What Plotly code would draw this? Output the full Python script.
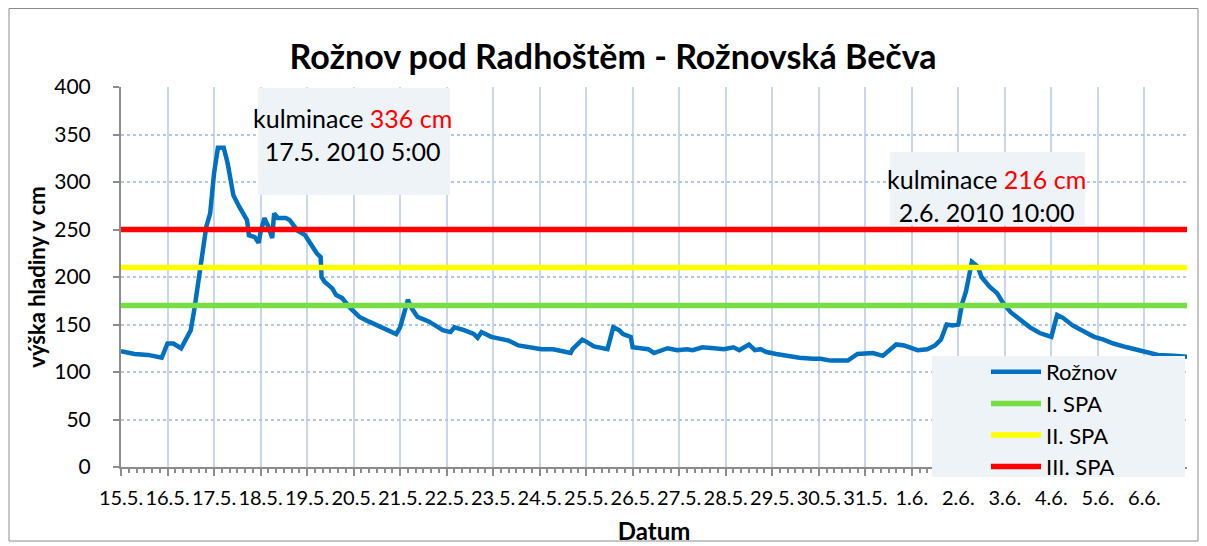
import pandas as pd
import plotly.graph_objects as go

# ---- data ----
start = "2010-05-15 00:00"
hours = [0, 7, 14, 21, 24, 27, 31, 36, 38, 41, 44, 46, 48, 50, 53, 55, 58, 61, 65, 66,
         69, 71, 72, 74, 76, 78, 79, 81, 85, 87, 91, 95, 98, 101, 103, 103.5, 105, 109, 111, 114,
         118, 123, 128, 134, 139, 142, 144, 148, 150, 153, 159, 163, 166, 170, 172, 177, 182, 184, 186, 191,
         195, 200, 205, 212, 217, 223, 226, 232, 233, 238, 240, 244, 251, 252, 254, 257, 259, 263, 264, 268,
         272, 275, 280, 282, 287, 292, 295, 300, 306, 311, 316, 319, 324, 327, 330, 333, 338, 344, 350, 357,
         361, 366, 375, 380, 388, 393, 400, 404, 411, 416, 420, 423, 426, 429, 432, 434, 436, 439, 442, 444,
         448, 452, 455, 459, 464, 469, 474, 478, 480, 483, 486, 491, 497, 502, 507, 512, 519, 526, 535, 543, 550]
level = [122, 119, 118, 115, 130, 130, 125, 144, 168, 207, 253, 267, 309, 336, 336, 320, 286, 274, 260, 244,
         242, 236, 247, 262, 253, 241, 267, 262, 262, 260, 249, 244, 234, 225, 221, 200, 195, 188, 181, 178,
         168, 158, 153, 147, 142, 140, 147, 176, 167, 158, 153, 148, 144, 142, 147, 144, 140, 136, 142, 137,
         135, 133, 128, 126, 124, 124, 123, 120, 124, 134, 132, 127, 124, 133, 147, 144, 140, 137, 126, 125,
         124, 120, 123, 125, 123, 124, 123, 126, 125, 124, 126, 123, 129, 123, 124, 121, 119, 117, 115, 114,
         114, 112, 112, 119, 120, 117, 129, 128, 123, 124, 128, 134, 150, 149, 150, 172, 185, 216, 211, 200,
         190, 183, 173, 163, 155, 147, 141, 138, 137, 160, 157, 149, 142, 137, 134, 130, 126, 122, 118, 117, 116]

spa_names = ["I. SPA", "II. SPA", "III. SPA"]
spa_values = [170, 210, 250]
spa_colors = ["#77dd44", "#ffff00", "#ff0000"]

x_range = ["2010-05-15 00:00", "2010-06-06 22:00"]
y_ticks = [0, 50, 100, 150, 200, 250, 300, 350, 400]

title_text = "Rožnov pod Radhoštěm - Rožnovská Bečva"
ann1 = "kulminace <span style='color:#ff0000'>336 cm</span><br>17.5. 2010 5:00"
ann2 = "kulminace <span style='color:#ff0000'>216 cm</span><br>2.6. 2010 10:00"

# ---- build ----
t0 = pd.Timestamp(start)
times = [t0 + pd.Timedelta(hours=h) for h in hours]

FONT = "Lato"
fig = go.Figure()
fig.add_trace(go.Scatter(x=times, y=level, mode="lines", name="Rožnov",
                         line=dict(color="#0070c0", width=4.5), legendgroup="a"))
for i, (n, v, c) in enumerate(zip(spa_names, spa_values, spa_colors)):
    fig.add_trace(go.Scatter(x=x_range, y=[v, v], mode="lines", name=n,
                             line=dict(color=c, width=5.5), legendgroup="g%d" % i))

# page has an 8px body margin: figure is drawn from (8, 8) on screen
OFF = 8
W, H = 1207 - OFF, 546 - OFF
PL, PR, PT, PB = 121, 1187, 87, 467          # plot area in screen pixels
L, R, T, B = PL - OFF, W - (PR - OFF), PT - OFF, H - (PB - OFF)
pw, ph = PR - PL, PB - PT

def px(xs):
    return (xs - PL) / pw

def py(ys):
    return (PB - ys) / ph

shapes = [
    dict(type="rect", xref="paper", yref="paper", x0=px(258), x1=px(450), y0=py(195), y1=py(88),
         fillcolor="#eef3f8", line=dict(width=0), layer="above"),
    dict(type="rect", xref="paper", yref="paper", x0=px(890), x1=px(1085), y0=py(225), y1=py(152),
         fillcolor="#eef3f8", line=dict(width=0), layer="above"),
    dict(type="rect", xref="paper", yref="paper", x0=px(932), x1=px(1185), y0=py(477), y1=py(356),
         fillcolor="#eef3f8", line=dict(width=0), layer="above"),
    dict(type="rect", xref="paper", yref="paper", x0=px(9), x1=px(1198), y0=py(541), y1=py(8.5),
         fillcolor="rgba(0,0,0,0)", line=dict(width=1, color="#8c8c8c"), layer="above"),
]

annotations = [
    dict(xref="paper", yref="paper", x=px(352), y=py(134), text=ann1, showarrow=False,
         font=dict(family=FONT, size=25, color="black"), align="center", xanchor="center", yanchor="middle"),
    dict(xref="paper", yref="paper", x=px(986), y=py(195), text=ann2, showarrow=False,
         font=dict(family=FONT, size=25, color="black"), align="center", xanchor="center", yanchor="middle"),
]

fig.update_layout(
    width=W, height=H,
    margin=dict(l=L, r=R, t=T, b=B),
    paper_bgcolor="white", plot_bgcolor="white",
    font=dict(family=FONT, size=19, color="black"),
    title=dict(text="<b>" + title_text + "</b>", x=(613 - OFF) / W, xanchor="center", y=1 - (57 - OFF) / H,
               yanchor="middle", font=dict(family=FONT, size=34, color="black")),
    shapes=shapes, annotations=annotations,
    legend=dict(x=px(986), y=py(351), xanchor="left", yanchor="top", bgcolor="rgba(0,0,0,0)",
                font=dict(family=FONT, size=22, color="black"), tracegroupgap=0, itemwidth=50),
    showlegend=True,
)
fig.update_xaxes(
    type="date", range=x_range, dtick=86400000, tick0="2010-05-15", automargin=False,
    tickformat="%-d.%-m.", showgrid=True, gridcolor="#c9d6ee", gridwidth=1.5, tickangle=0,
    showline=True, linecolor="#8c8c8c", linewidth=2,
    ticks="outside", ticklen=7, tickcolor="#8c8c8c", tickwidth=1.5,
    tickfont=dict(family=FONT, size=20, color="black"), ticklabelstandoff=5,
    minor=dict(dtick=4 * 3600000, ticks="outside", ticklen=4, tickcolor="#8c8c8c", showgrid=False),
    title=dict(text="<b>Datum</b>", font=dict(family=FONT, size=24, color="black"), standoff=15),
    zeroline=False,
)
fig.update_yaxes(
    range=[0, 400], tickvals=y_ticks, showgrid=True, gridcolor="#b4c6e7", gridwidth=1.5, automargin=False,
    griddash="dot", showline=True, linecolor="#8c8c8c", linewidth=2,
    ticks="outside", ticklen=6, tickcolor="#8c8c8c", tickwidth=1.5,
    tickfont=dict(family=FONT, size=21, color="black"), ticklabelstandoff=18,
    title=dict(text="<b>výška hladiny v cm</b>", font=dict(family=FONT, size=22, color="black"), standoff=3),
    zeroline=False,
)

fig.write_html("out.html")
